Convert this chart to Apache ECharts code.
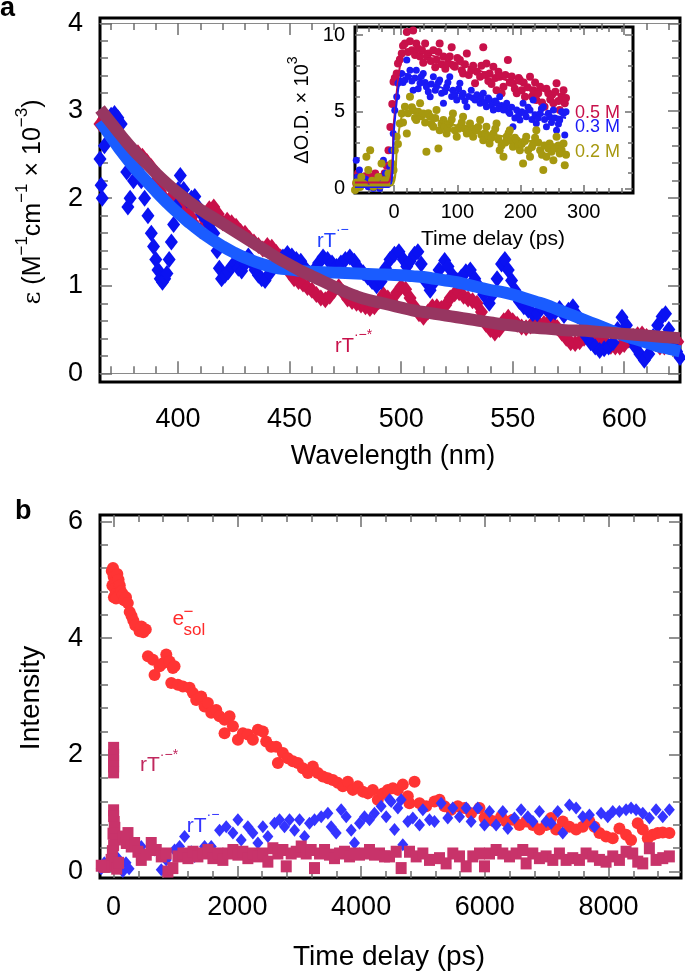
<!DOCTYPE html>
<html><head><meta charset="utf-8">
<script src="https://cdn.jsdelivr.net/npm/echarts@6/dist/echarts.min.js"></script>
<style>html,body{margin:0;padding:0;background:#fff}#c{width:685px;height:974px}</style>
</head><body><div id="c"></div>
<script>
// ---------- Panel a: spectra ----------
const redWl = [365,366.5,368,369.5,371,372.5,374,375.5,377,378.5,
380,382,384,386,388,390,392,394,396,398,
400,402,404,406,408,410,412,414,416,418,
420,422,424,426,428,430,432,434,436,438,
440,442,444,446,448,450,452,454,456,458,
460,462,464,466,468,470,472,474,476,478,
480,482,484,486,488,490,492,494,496,498,
500,502,504,506,508,510,512,514,516,518,
520,522,524,526,528,530,532,534,536,538,
540,542,544,546,548,550,552,554,556,558,
560,562,564,566,568,570,572,574,576,578,
580,582,584,586,588,590,592,594,596,598,
600,602,604,606,608,610,612,614,616,618,
620,622,624];
const redEps = [2.85,2.9,2.85,2.8,2.78,2.72,2.66,2.62,2.6,2.58,
2.55,2.52,2.48,2.42,2.36,2.2,2.08,2.0,1.98,2.02,
2.0,1.95,1.86,1.78,1.68,1.63,1.75,1.88,1.9,1.82,
1.72,1.75,1.72,1.68,1.62,1.6,1.54,1.5,1.46,1.42,
1.46,1.44,1.38,1.33,1.25,1.15,1.08,1.05,1.02,0.98,
0.95,0.9,0.86,0.84,0.88,0.95,0.99,0.92,0.85,0.82,
0.8,0.78,0.76,0.74,0.76,0.82,0.9,0.86,0.82,0.92,
0.99,0.96,0.86,0.76,0.68,0.64,0.7,0.76,0.76,0.74,
0.78,0.86,0.91,0.92,0.88,0.85,0.83,0.8,0.7,0.56,
0.5,0.46,0.5,0.6,0.64,0.6,0.56,0.53,0.52,0.54,
0.56,0.56,0.57,0.58,0.57,0.52,0.46,0.4,0.35,0.34,
0.36,0.4,0.42,0.44,0.42,0.38,0.34,0.31,0.3,0.3,
0.33,0.38,0.42,0.44,0.45,0.42,0.38,0.34,0.3,0.3,
0.31,0.33,0.36];
const blueWl = [365,365.5,366,367,368.5,370,371.5,373,374.5,376,
377,377.5,378.5,380,382,383.5,385,386.5,388,389,
390,391,392,393,394,395,396,397,398,399,
400,401,402.5,404,406,407.5,409,410.5,412,414,
416,417.5,418.5,419.5,421,422.5,424,425.5,427,428.5,
430,431.5,433,434.5,436,437.5,439,441,443,445,
447,449,451,453,455,457,459,461,463,465,
467,469,471,473,475,477,479,481,483,485,
487,489,491,493,495,497,499,501,502.5,504,
506,507.5,509,511,513,515,517,519.5,521,523,
525,527,529,531,533,535,537,539.5,541,543,
545,546.5,548,549.5,551,553,555,557,559,561,
563,565,567,569,571,573,575,577,579,581,
583,585,587,589,591,593,595,597,599,601,
603,605,607,609,611,613,615,617,618.5,620,
622,623.5,625];
const blueEps = [2.45,2.15,2.0,2.6,2.8,2.95,2.97,2.92,2.85,2.6,
2.3,1.9,2.0,2.2,2.32,2.2,2.0,1.8,1.6,1.45,
1.3,1.18,1.08,1.04,1.08,1.14,1.3,1.5,1.7,1.9,
2.1,2.26,2.1,1.98,2.0,2.02,1.9,1.82,1.78,1.7,
1.6,1.4,1.2,1.08,1.12,1.16,1.22,1.26,1.2,1.17,
1.25,1.34,1.26,1.18,1.12,1.08,1.06,1.14,1.22,1.28,
1.33,1.37,1.34,1.3,1.28,1.2,1.14,1.18,1.26,1.33,
1.3,1.26,1.22,1.26,1.3,1.33,1.28,1.2,1.15,1.1,
1.05,1.0,1.05,1.2,1.3,1.36,1.39,1.3,1.22,1.28,
1.36,1.39,1.25,1.05,0.95,1.05,1.18,1.29,1.22,1.12,
1.06,1.1,1.16,1.18,1.08,0.99,0.9,0.8,0.9,1.08,
1.25,1.3,1.18,1.06,0.95,0.82,0.76,0.72,0.68,0.68,
0.75,0.74,0.68,0.7,0.74,0.66,0.72,0.76,0.66,0.5,
0.42,0.35,0.3,0.26,0.28,0.3,0.35,0.5,0.64,0.55,
0.4,0.3,0.22,0.15,0.22,0.42,0.55,0.65,0.68,0.5,
0.35,0.25,0.18];
const fitWl = [365,370,375,380,385,390,395,400,405,410,415,420,425,430,435,440,445,450,455,460,465,470,475,480,485,490,495,500,505,510,515,520,525,530,535,540,545,550,555,560,565,570,575,580,585,590,595,600,605,610,615,620,625];
const fitStar = [3.02,2.86,2.70,2.55,2.42,2.29,2.17,2.06,1.96,1.87,1.79,1.71,1.63,1.55,1.47,1.39,1.31,1.24,1.17,1.11,1.05,0.99,0.93,0.88,0.84,0.81,0.78,0.75,0.72,0.70,0.68,0.66,0.64,0.62,0.60,0.58,0.56,0.545,0.53,0.52,0.51,0.50,0.49,0.49,0.48,0.47,0.46,0.45,0.44,0.43,0.42,0.41,0.40];
const fitRT = [2.88,2.70,2.52,2.36,2.22,2.08,1.95,1.83,1.72,1.62,1.53,1.45,1.38,1.32,1.27,1.23,1.20,1.185,1.17,1.16,1.155,1.15,1.145,1.14,1.135,1.13,1.125,1.12,1.11,1.10,1.08,1.06,1.04,1.01,0.98,0.95,0.93,0.90,0.86,0.82,0.78,0.73,0.68,0.63,0.58,0.53,0.48,0.43,0.39,0.35,0.31,0.28,0.25];

// ---------- Inset: kinetics ----------
const inRed = [[-60,0.33],[-57,1.0],[-54,0.6],[-50,0.54],[-46,0.8],[-42,0.4],[-38,0.76],[-34,0.5],[-30,0.98],[-26,0.6],[-22,0.76],[-18,0.45],[-15,1.0],[-12,1.5],[-9,2.5],[-6,4.0],[-3,5.5],[-1,6.96],[1,7.2],[4,7.5],[6,8.15],[9,8.4],[12,8.8],[14,9.3],[17,9.45],[20,10.2],[22,8.9],[25,9.6],[28,9.0],[30,10.3],[33,8.7],[35,9.45],[38,9.1],[41,8.6],[44,9.0],[46,8.2],[49,9.45],[52,8.6],[54,8.8],[58,8.3],[62,9.0],[65,7.9],[67,8.37],[70,8.9],[72,9.45],[75,8.1],[78,8.6],[81,7.8],[85,8.15],[88,8.6],[91,9.2],[94,8.0],[96,7.93],[100,8.5],[104,8.37],[107,7.7],[109,7.5],[112,8.1],[115,8.8],[118,7.4],[122,7.7],[125,8.0],[128,6.85],[131,7.6],[136,7.28],[138,8.0],[141,9.2],[144,7.4],[146,8.15],[149,7.0],[151,7.5],[154,6.8],[157,7.93],[160,7.2],[162,6.4],[165,7.6],[167,7.28],[170,6.2],[173,6.63],[176,7.4],[180,8.37],[183,6.9],[186,7.3],[188,6.85],[191,6.5],[194,6.2],[197,7.2],[199,7.07],[202,6.4],[205,6.9],[207,5.98],[211,6.6],[215,7.28],[218,6.0],[220,6.4],[223,6.9],[225,5.76],[228,6.2],[231,6.63],[234,5.6],[238,5.33],[241,6.5],[244,6.2],[247,5.8],[250,6.1],[252,5.55],[255,6.3],[257,6.85],[260,5.7],[262,5.11],[265,6.0],[268,6.4],[270,5.55],[272,5.9]];
const inBlue = [[-60,1.85],[-58,0.76],[-55,1.2],[-52,0.5],[-49,0.33],[-45,0.6],[-41,0.11],[-37,0.3],[-33,0.0],[-28,0.2],[-23,0.0],[-20,0.4],[-17,1.85],[-14,1.0],[-12,0.54],[-9,0.9],[-7,1.41],[-4,2.5],[-1.5,3.59],[1,5.1],[4,5.98],[6,6.85],[9,7.0],[12,7.5],[14,6.9],[17,7.07],[20,8.37],[22,7.3],[25,7.7],[28,7.0],[30,6.4],[33,7.2],[35,7.7],[38,6.5],[41,6.85],[43,7.3],[46,7.5],[49,6.9],[51,6.63],[54,6.3],[57,5.98],[59,6.8],[62,7.28],[65,6.4],[67,6.63],[70,6.9],[72,7.07],[75,6.2],[78,5.55],[80,6.3],[83,6.63],[85,6.9],[88,7.28],[91,6.0],[93,6.4],[96,6.1],[99,5.76],[102,6.5],[104,6.85],[107,6.0],[109,6.2],[112,5.7],[115,5.33],[118,6.0],[122,6.4],[125,5.9],[128,5.76],[131,6.1],[136,5.55],[138,5.9],[141,6.2],[144,5.6],[146,5.33],[149,5.9],[151,5.76],[154,5.4],[157,5.11],[160,5.7],[162,5.55],[165,5.2],[167,5.98],[170,5.4],[173,5.11],[176,5.3],[178,5.55],[181,5.0],[183,4.89],[186,5.3],[188,4.02],[191,4.6],[194,5.11],[197,4.8],[199,4.46],[202,5.0],[204,5.55],[207,4.9],[209,4.67],[212,5.3],[215,5.11],[218,4.5],[220,5.76],[223,4.8],[225,4.24],[228,4.6],[231,4.89],[233,5.2],[236,5.33],[238,4.5],[241,4.02],[244,4.9],[246,4.67],[249,4.3],[252,5.11],[254,4.6],[257,3.8],[260,4.2],[262,4.46],[265,5.0],[268,4.89],[270,3.48],[272,5.0]];
const inOlive = [[-62,-0.1],[-60,0.4],[-57,0.33],[-54,0.1],[-52,0.76],[-48,0.3],[-44,2.07],[-41,1.2],[-38,2.5],[-35,0.5],[-33,0.11],[-29,0.4],[-25,0.76],[-22,0.2],[-20,1.63],[-17,0.3],[-15,0.54],[-12,0.4],[-9,0.98],[-6,0.6],[-4,1.63],[-1,1.2],[1,2.5],[4,3.37],[6,2.9],[9,4.24],[12,4.89],[14,4.3],[17,5.33],[20,3.59],[22,4.9],[25,5.98],[28,5.3],[30,5.11],[33,4.6],[35,4.46],[38,5.0],[41,5.55],[43,4.7],[46,4.89],[49,4.3],[51,2.39],[54,4.9],[57,4.67],[59,4.2],[62,4.02],[65,4.6],[67,5.11],[70,2.61],[72,3.8],[75,4.2],[78,4.46],[80,4.0],[83,3.59],[85,3.9],[88,4.24],[91,4.5],[93,4.89],[96,3.8],[99,3.37],[102,3.9],[104,4.02],[107,4.3],[109,4.67],[112,3.9],[115,3.59],[118,3.8],[120,4.24],[123,3.6],[125,3.37],[128,3.9],[130,3.8],[133,4.0],[136,4.46],[138,3.5],[141,3.15],[144,3.6],[146,4.02],[149,3.4],[151,2.93],[154,3.3],[157,3.59],[160,3.9],[162,4.24],[165,3.2],[167,2.5],[170,2.8],[173,2.07],[176,3.0],[178,3.37],[181,3.6],[183,3.8],[186,3.1],[188,2.72],[191,3.3],[194,3.15],[197,2.8],[199,2.5],[202,2.9],[204,1.63],[207,3.1],[209,3.37],[212,2.5],[215,2.07],[218,2.7],[220,2.93],[223,3.3],[225,3.8],[228,3.0],[231,2.5],[234,2.2],[236,1.2],[238,2.8],[241,2.07],[244,2.6],[246,2.93],[249,2.4],[252,1.85],[254,2.6],[257,3.37],[260,2.8],[262,2.28],[265,2.5],[268,2.93],[270,1.52],[272,2.2]];
const inFitRed = [[-62,0.4],[-10,0.4],[0,4.5],[10,8.2],[20,9.0],[40,8.9],[80,8.4],[120,7.9],[160,7.3],[200,6.8],[240,6.3],[272,6.0]];
const inFitBlue = [[-62,0.1],[-8,0.1],[0,4.0],[8,6.9],[15,7.5],[40,7.1],[80,6.5],[120,6.0],[160,5.5],[200,5.1],[240,4.8],[272,4.6]];
const inFitOlive = [[-62,0.2],[-5,0.2],[5,3.0],[12,4.7],[20,5.0],[40,4.8],[80,4.3],[120,3.9],[160,3.5],[200,3.2],[240,2.95],[272,2.8]];

// ---------- Panel b ----------
const bSol = [[-30,5.15],[-10,5.2],[0,5.05],[10,4.95],[-20,4.9],[20,4.85],[30,4.75],[5,4.7],[40,4.68],[60,5.1],[80,5.0],[100,4.9],[120,4.8],[150,4.75],[170,4.65],[200,4.7],[230,4.6],[260,4.45],[290,4.38],[320,4.3],[350,4.22],[420,4.12],[450,4.2],[480,4.1],[520,4.15],[555,3.69],[635,3.63],[662,3.37],[743,3.52],[797,3.57],[851,3.72],[905,3.6],[932,3.23],[958,3.49],[985,3.52],[1039,3.2],[1120,3.17],[1228,3.15],[1282,3.06],[1335,2.94],[1416,3.0],[1470,2.83],[1524,2.89],[1578,2.72],[1659,2.77],[1712,2.66],[1793,2.6],[1793,2.37],[1874,2.66],[1928,2.49],[2009,2.26],[2089,2.37],[2170,2.35],[2251,2.26],[2332,2.43],[2412,2.4],[2466,2.23],[2547,2.14],[2628,2.14],[2655,1.86],[2736,2.03],[2816,1.94],[2897,1.89],[2978,1.86],[3059,1.77],[3140,1.69],[3220,1.8],[3301,1.69],[3382,1.63],[3463,1.6],[3543,1.57],[3624,1.52],[3705,1.46],[3786,1.54],[3866,1.4],[3947,1.46],[4028,1.37],[4109,1.34],[4189,1.4],[4270,1.23],[4351,1.34],[4432,1.4],[4513,1.43],[4594,1.4],[4674,1.49],[4863,1.54],[4755,1.29],[4782,1.17],[4944,1.17],[5051,1.12],[5186,1.2],[5267,1.23],[5348,1.12],[5455,1.06],[5563,1.12],[5671,1.09],[5778,1.0],[5913,1.09],[5994,0.92],[6075,0.89],[6155,0.86],[6263,0.94],[6344,0.86],[6451,0.89],[6559,0.8],[6667,0.86],[6775,0.8],[6882,0.72],[6990,0.8],[7071,0.92],[7152,0.72],[7259,0.86],[7367,0.77],[7475,0.72],[7582,0.77],[7690,0.86],[7771,0.77],[7852,0.66],[7959,0.6],[8067,0.57],[8175,0.74],[8282,0.63],[8363,0.54],[8471,0.83],[8552,0.72],[8633,0.57],[8713,0.63],[8794,0.66],[8875,0.67],[8982,0.66]];
const bRT = [[-200,0.05],[-150,0.15],[-100,0.1],[-50,0.2],[0,0.3],[50,0.25],[100,0.1],[150,0.0],[200,0.15],[250,0.05],[447,0.43],[555,0.31],[662,0.37],[770,0.03],[851,0.2],[985,0.37],[1066,0.43],[1147,0.6],[1255,0.34],[1309,0.26],[1470,0.43],[1578,0.43],[1712,0.71],[1820,0.77],[1928,0.66],[2009,0.89],[2062,0.54],[2170,0.77],[2251,0.66],[2332,0.49],[2412,0.77],[2493,0.6],[2601,0.83],[2682,0.89],[2762,0.77],[2843,0.89],[2924,0.71],[3005,0.89],[3086,0.6],[3166,0.83],[3247,0.89],[3355,0.94],[3463,1.0],[3516,0.77],[3597,0.66],[3678,1.06],[3759,0.94],[3840,0.71],[3893,0.49],[3974,0.83],[4055,0.94],[4136,0.89],[4216,1.0],[4324,1.12],[4405,0.94],[4459,1.23],[4486,1.2],[4540,0.72],[4594,1.09],[4647,1.23],[4674,0.46],[4755,0.86],[4836,0.92],[4944,0.8],[4998,1.06],[5105,0.89],[5186,0.86],[5294,1.17],[5401,0.92],[5482,1.09],[5590,0.94],[5698,1.09],[5778,0.86],[5886,1.09],[5994,0.8],[6075,1.03],[6182,0.8],[6290,1.03],[6371,0.74],[6478,0.92],[6586,1.06],[6694,0.94],[6775,0.86],[6882,1.03],[6990,0.86],[7071,0.83],[7178,1.03],[7259,0.66],[7367,1.14],[7475,1.09],[7582,0.94],[7690,0.97],[7771,0.77],[7879,1.0],[7986,0.94],[8067,1.03],[8175,1.03],[8282,1.06],[8363,1.09],[8444,1.06],[8552,1.0],[8659,0.92],[8767,1.06],[8875,0.94],[8982,1.06]];
const bStar = [[0,2.12],[0,2.0],[0,1.9],[0,1.8],[0,1.7],[0,1.05],[0,0.95],[10,0.85],[20,0.75],[-10,0.65],[30,0.55],[0,0.45],[-20,0.35],[-40,0.2],[-60,0.1],[-100,0.1],[-150,0.08],[-200,0.1],[50,0.05],[80,0.15],[151,0.6],[205,0.49],[232,0.66],[285,0.43],[339,0.49],[393,0.34],[447,0.2],[528,0.29],[608,0.49],[689,0.37],[770,0.26],[851,0.31],[878,0.0],[958,0.06],[1039,0.26],[1120,0.31],[1201,0.23],[1282,0.34],[1362,0.26],[1443,0.31],[1524,0.37],[1605,0.23],[1686,0.31],[1766,0.2],[1847,0.31],[1928,0.37],[2009,0.29],[2089,0.34],[2170,0.23],[2251,0.31],[2332,0.26],[2412,0.31],[2493,0.17],[2574,0.4],[2655,0.31],[2736,0.37],[2790,0.09],[2870,0.31],[2951,0.34],[3032,0.43],[3113,0.31],[3193,0.37],[3247,0.06],[3328,0.31],[3409,0.37],[3489,0.29],[3570,0.23],[3651,0.31],[3732,0.34],[3813,0.26],[3893,0.31],[3974,0.29],[4055,0.31],[4136,0.37],[4216,0.29],[4297,0.31],[4378,0.26],[4459,0.26],[4567,0.34],[4647,0.06],[4782,0.34],[4890,0.26],[4998,0.31],[5105,0.2],[5267,0.23],[5374,0.14],[5482,0.31],[5590,0.26],[5698,0.09],[5805,0.26],[5913,0.31],[5994,0.09],[6075,0.31],[6182,0.37],[6290,0.31],[6398,0.26],[6505,0.31],[6613,0.37],[6667,0.14],[6775,0.31],[6882,0.23],[6990,0.26],[7098,0.2],[7205,0.31],[7313,0.2],[7421,0.23],[7529,0.2],[7636,0.31],[7744,0.26],[7852,0.2],[7959,0.17],[8067,0.26],[8175,0.2],[8282,0.34],[8390,0.31],[8471,0.17],[8552,0.14],[8659,0.4],[8767,0.2],[8875,0.23],[8982,0.26]];

// ---------- Ticks ----------
const aXMajor = [400,450,500,550,600];
const aXMinor = [370,380,390,410,420,430,440,460,470,480,490,510,520,530,540,560,570,580,590,610,620];
const aYMajor = [0,1,2,3,4];
const aYMinor = [0.2,0.4,0.6,0.8,1.2,1.4,1.6,1.8,2.2,2.4,2.6,2.8,3.2,3.4,3.6,3.8];
const iXMajor = [0,100,200,300];
const iXMinor = [-60,-40,-20,20,40,60,80,120,140,160,180,220,240,260,280,320,340,360];
const iYMajor = [0,5,10];
const iYMinor = [1,2,3,4,6,7,8,9];
const bXMajor = [0,2000,4000,6000,8000];
const bXMinor = [400,800,1200,1600,2400,2800,3200,3600,4400,4800,5200,5600,6400,6800,7200,7600,8400,8800];
const bYMajor = [0,2,4,6];
const bYMinor = [0.4,0.8,1.2,1.6,2.4,2.8,3.2,3.6,4.4,4.8,5.2,5.6];

const FONT = '"Liberation Sans", Arial, Helvetica, sans-serif';
const TICK = '#6e6e6e';

function ax(gi, min, max, pos, vals, len, opts) {
  opts = opts || {};
  const o = {
    type: 'value', gridIndex: gi, min: min, max: max, position: pos, offset: opts.offset || 0,
    axisLine: {show: !!opts.line, onZero: !!opts.onZero, lineStyle: {color: '#8a8a8a', width: 1}},
    splitLine: {show: false},
    axisTick: {show: true, inside: true, length: len, customValues: vals, lineStyle: {color: TICK, width: 1.5}},
    axisLabel: {show: false}
  };
  if (opts.label) {
    o.axisLabel = {show: true, customValues: vals, fontSize: opts.fs, fontFamily: FONT, color: '#000',
      margin: opts.margin, formatter: v => String(v)};
  }
  return o;
}

const xAxes = [
  ax(0, 365, 625, 'bottom', aXMajor, 12, {label: true, fs: 27, margin: 24, onZero: true, line: true}),
  ax(0, 365, 625, 'bottom', aXMinor, 7, {onZero: true}),
  ax(0, 365, 625, 'top', aXMajor, 12, {offset: -5, line: true}),
  ax(0, 365, 625, 'top', aXMinor, 7, {offset: -5}),
  ax(1, -62, 378, 'bottom', iXMajor, 8, {label: true, fs: 20, margin: 9}),
  ax(1, -62, 378, 'bottom', iXMinor, 5, {}),
  ax(1, -62, 378, 'top', iXMajor, 8, {}),
  ax(1, -62, 378, 'top', iXMinor, 5, {}),
  ax(2, -220, 9170, 'bottom', bXMajor, 12, {label: true, fs: 27, margin: 16}),
  ax(2, -220, 9170, 'bottom', bXMinor, 7, {}),
  ax(2, -220, 9170, 'top', bXMajor, 12, {}),
  ax(2, -220, 9170, 'top', bXMinor, 7, {})
];
const yAxes = [
  ax(0, -0.1, 4.06, 'left', aYMajor, 12, {label: true, fs: 27, margin: 17}),
  ax(0, -0.1, 4.06, 'left', aYMinor, 8, {}),
  ax(0, -0.1, 4.06, 'right', aYMajor, 12, {}),
  ax(0, -0.1, 4.06, 'right', aYMinor, 8, {}),
  ax(1, -0.29, 10.52, 'left', iYMajor, 8, {label: true, fs: 20, margin: 10}),
  ax(1, -0.29, 10.52, 'left', iYMinor, 5, {}),
  ax(1, -0.29, 10.52, 'right', iYMajor, 8, {}),
  ax(1, -0.29, 10.52, 'right', iYMinor, 5, {}),
  ax(2, -0.11, 6.11, 'left', bYMajor, 12, {label: true, fs: 27, margin: 17}),
  ax(2, -0.11, 6.11, 'left', bYMinor, 8, {}),
  ax(2, -0.11, 6.11, 'right', bYMajor, 12, {}),
  ax(2, -0.11, 6.11, 'right', bYMinor, 8, {})
];

const zip = (xs, ys) => xs.map((x, i) => [x, ys[i]]);
const CRIMSON = '#C8104A', BLUE = '#0A12F2', FITBLUE = '#1A5CFF', MAROON = '#973661', OLIVE = '#A6980F';
const solid = c => ({color: c, opacity: 1});

const series = [
  {type: 'scatter', xAxisIndex: 0, yAxisIndex: 0, data: zip(redWl, redEps), symbol: 'diamond', symbolSize: [13, 17], itemStyle: solid(CRIMSON), z: 2},
  {type: 'scatter', xAxisIndex: 0, yAxisIndex: 0, data: zip(blueWl, blueEps), symbol: 'diamond', symbolSize: [13, 17], itemStyle: solid(BLUE), z: 3},
  {type: 'line', xAxisIndex: 0, yAxisIndex: 0, data: zip(fitWl, fitRT), smooth: true, showSymbol: false, lineStyle: {width: 12, color: FITBLUE}, z: 4},
  {type: 'line', xAxisIndex: 0, yAxisIndex: 0, data: zip(fitWl, fitStar), smooth: true, showSymbol: false, lineStyle: {width: 12, color: MAROON}, z: 5},

  {type: 'scatter', xAxisIndex: 4, yAxisIndex: 4, data: inRed, symbol: 'circle', symbolSize: 8, itemStyle: solid(CRIMSON), z: 6},
  {type: 'scatter', xAxisIndex: 4, yAxisIndex: 4, data: inBlue, symbol: 'circle', symbolSize: 7, itemStyle: solid('#1A1AF5'), z: 7},
  {type: 'scatter', xAxisIndex: 4, yAxisIndex: 4, data: inOlive, symbol: 'circle', symbolSize: 8, itemStyle: solid(OLIVE), z: 8},
  {type: 'line', xAxisIndex: 4, yAxisIndex: 4, data: inFitRed, smooth: 0.3, showSymbol: false, lineStyle: {width: 2, color: CRIMSON}, z: 9},
  {type: 'line', xAxisIndex: 4, yAxisIndex: 4, data: inFitBlue, smooth: 0.3, showSymbol: false, lineStyle: {width: 2, color: '#1A1AF5'}, z: 9},
  {type: 'line', xAxisIndex: 4, yAxisIndex: 4, data: inFitOlive, smooth: 0.3, showSymbol: false, lineStyle: {width: 2, color: OLIVE}, z: 9},

  {type: 'scatter', xAxisIndex: 8, yAxisIndex: 8, data: bSol, symbol: 'circle', symbolSize: 12, itemStyle: solid('#FF3434'), z: 2},
  {type: 'scatter', xAxisIndex: 8, yAxisIndex: 8, data: bRT, symbol: 'diamond', symbolSize: [11, 13], itemStyle: solid('#3434FF'), z: 3},
  {type: 'scatter', xAxisIndex: 8, yAxisIndex: 8, data: bStar, symbol: 'rect', symbolSize: [11, 12], itemStyle: solid('#C8336A'), z: 4}
];

function txt(x, y, text, size, color, extra) {
  const e = {type: 'text', x: x, y: y, z: 100,
    style: Object.assign({text: text, fill: color || '#000', fontSize: size, fontFamily: FONT, align: 'center', verticalAlign: 'middle'}, (extra && extra.style) || {})};
  if (extra && extra.rotation) e.rotation = extra.rotation;
  return e;
}
function supRich(size, supSize, color, lh) {
  return {
    n: {fontSize: size, fontFamily: FONT, fill: color, lineHeight: lh, verticalAlign: 'bottom'},
    s: {fontSize: supSize, fontFamily: FONT, fill: color, lineHeight: supSize, verticalAlign: 'top'},
    e: {fontSize: size, fontFamily: '"DejaVu Serif", serif', fill: color, lineHeight: lh, verticalAlign: 'bottom'}
  };
}

const graphics = [
  txt(0, 9, 'a', 27, '#000', {style: {fontWeight: 'bold', align: 'left'}}),
  txt(15, 512, 'b', 27, '#000', {style: {fontWeight: 'bold', align: 'left'}}),
  txt(393, 457, 'Wavelength (nm)', 27),
  txt(30, 202, '{e|ε} {n|(M}{s|−1}{n|cm}{s|−1}{n| × 10}{s|−3}{n|)}', 25, '#000',
      {rotation: Math.PI / 2, style: {rich: supRich(25, 17, '#000', 32)}}),
  txt(493, 239, 'Time delay (ps)', 21),
  txt(299, 110, '{n|ΔO.D. × 10}{s|3}', 20, '#000', {rotation: Math.PI / 2, style: {rich: supRich(20, 14, '#000', 26)}}),
  txt(575, 113, '0.5 M', 18, CRIMSON, {style: {align: 'left'}}),
  txt(575, 127.5, '0.3 M', 18, '#1A1AF5', {style: {align: 'left'}}),
  txt(575, 152.5, '0.2 M', 18, OLIVE, {style: {align: 'left'}}),
  txt(317, 237, '{n|rT}{s|·−}', 20, '#2040FF', {style: {align: 'left', rich: supRich(20, 14, '#2040FF', 28)}}),
  txt(335, 342, '{n|rT}{s|·−*}', 20, CRIMSON, {style: {align: 'left', rich: supRich(20, 14, CRIMSON, 28)}}),
  txt(172.6, 619.5, 'e', 21, '#FF2A2A', {style: {align: 'left'}}),
  txt(183.5, 612.5, '−', 17, '#FF2A2A', {style: {align: 'left'}}),
  txt(183.5, 630.5, 'sol', 17, '#FF2A2A', {style: {align: 'left'}}),
  txt(140, 762, '{n|rT}{s|·−*}', 21, '#C0285E', {style: {align: 'left', rich: supRich(21, 14, '#C0285E', 28)}}),
  txt(186.7, 822.5, '{n|rT}{s|·−}', 21, '#3434FF', {style: {align: 'left', rich: supRich(21, 14, '#3434FF', 28)}}),
  txt(389, 957, 'Time delay (ps)', 28),
  txt(31, 698, 'Intensity', 28, '#000', {rotation: Math.PI / 2})
];

const chart = echarts.init(document.getElementById('c'), null, {renderer: 'canvas', width: 685, height: 974});
chart.setOption({
  animation: false,
  backgroundColor: '#fff',
  grid: [
    {left: 100, top: 18, width: 580, height: 364, show: true, borderColor: '#000', borderWidth: 3, backgroundColor: 'transparent', containLabel: false},
    {left: 355, top: 27, width: 278, height: 166, show: true, borderColor: '#000', borderWidth: 3, backgroundColor: '#fff', containLabel: false},
    {left: 100, top: 515, width: 581, height: 363, show: true, borderColor: '#000', borderWidth: 3, backgroundColor: 'transparent', containLabel: false}
  ],
  xAxis: xAxes,
  yAxis: yAxes,
  series: series,
  graphic: {elements: graphics}
});
</script></body></html>
